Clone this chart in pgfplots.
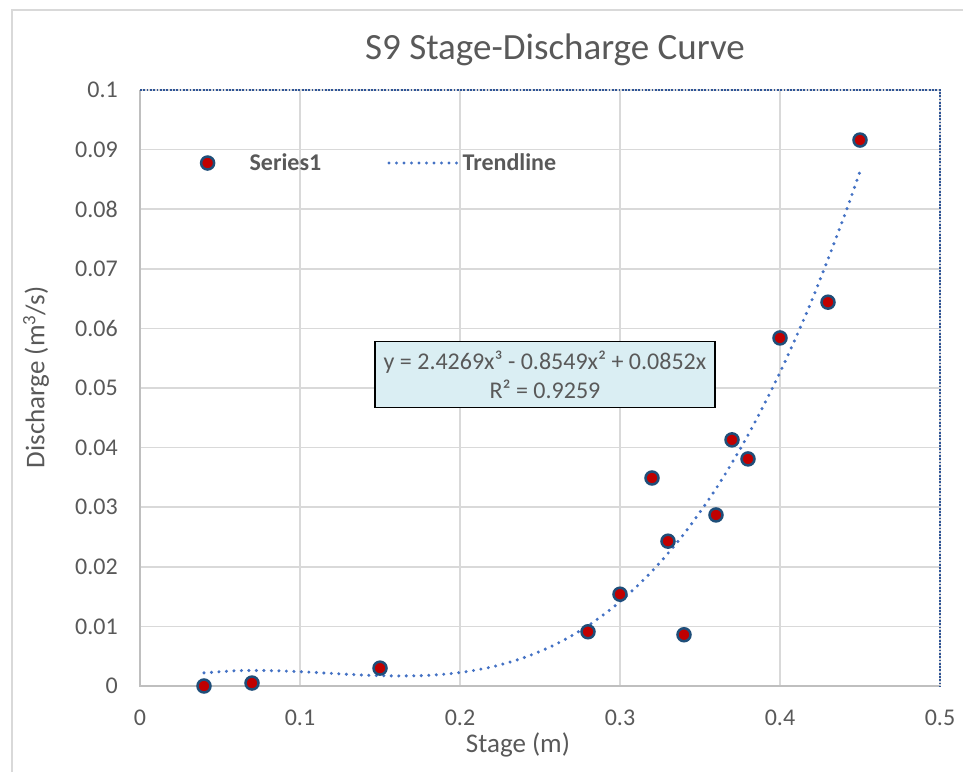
\documentclass[border=0pt]{standalone}
\usepackage{fontspec}
\setmainfont{Carlito}
\usepackage{pgfplots}
\pgfplotsset{compat=1.18}
\definecolor{txt}{HTML}{595959}
\definecolor{grd}{HTML}{D9D9D9}
\definecolor{mkfill}{HTML}{C00000}
\definecolor{mkline}{HTML}{1F4E79}
\definecolor{trend}{HTML}{4472C4}
\definecolor{pab}{HTML}{2F5597}
\definecolor{eqfill}{HTML}{DAEEF3}
\definecolor{outerc}{HTML}{D9D9D9}
\definecolor{axc}{HTML}{BFBFBF}
\pgfplotsset{
  s1legend/.style={legend image code/.code={\draw[mkline, fill=mkfill, line width=2.5pt] (0pt,0pt) circle (6.5pt); \path[draw=none, fill=none] (-8pt,-8pt) rectangle (40pt,8pt);}},
  trlegend/.style={legend image code/.code={\draw[trend, line width=3.4pt, dash pattern=on 0pt off 7.5pt, line cap=round] (0pt,0pt) -- (70pt,0pt);}},
}
\begin{document}
\begin{tikzpicture}
\path[use as bounding box] (0,0) rectangle (963pt,772pt);
\draw[outerc, line width=1.5pt] (12pt,0pt) -- (12pt,762pt) -- (963pt,762pt);
\begin{axis}[
  at={(140pt,86pt)}, anchor=south west,
  scale only axis, width=800pt, height=596pt,
  xmin=0, xmax=0.5, ymin=0, ymax=0.1,
  clip=false,
  xtick={0,0.1,0.2,0.3,0.4,0.5},
  xticklabels={0,0.1,0.2,0.3,0.4,0.5},
  ytick={0,0.01,0.02,0.03,0.04,0.05,0.06,0.07,0.08,0.09,0.1},
  yticklabels={0,0.01,0.02,0.03,0.04,0.05,0.06,0.07,0.08,0.09,0.1},
  /pgf/number format/assume math mode=true,
  major tick length=0pt,
  grid=major, grid style={grd, line width=1.5pt},
  axis line style={draw=none},
  tick label style={font=\fontsize{24}{28}\selectfont, text=txt},
  xticklabel style={anchor=north, inner sep=0pt, yshift=-24pt},
  yticklabel style={anchor=east, inner sep=0pt, xshift=-22pt},
  xlabel={Stage (m)}, ylabel={Discharge (m\textsuperscript{3}/s)},
  label style={font=\fontsize{27}{31}\selectfont, text=txt},
  xlabel style={at={(axis description cs:0.4725,-0.099)}, anchor=center},
  ylabel style={at={(axis description cs:-0.13,0.518)}, anchor=center},
  legend style={at={(axis description cs:0.0705,0.8775)}, anchor=west, draw=none, fill=none,
    font=\fontsize{24}{28}\selectfont\bfseries, text=txt,
    /tikz/every even column/.append style={column sep=64pt}},
  legend columns=2,
]
\addplot[only marks, mark=*, mark size=6.5pt, mark options={fill=mkfill, draw=mkline, line width=2.5pt}, s1legend]
coordinates {(0.04,0.0000) (0.07,0.0005) (0.15,0.0030) (0.28,0.0091) (0.30,0.0154) (0.32,0.0349) (0.33,0.0243) (0.34,0.0086) (0.36,0.0287) (0.37,0.0413) (0.38,0.0381) (0.40,0.0584) (0.43,0.0644) (0.45,0.0916)};
\addlegendentry{Series1}
\addplot[trend, line width=3.4pt, dash pattern=on 0pt off 7.5pt, line cap=round, smooth, no marks, trlegend]
coordinates {(0.04,0.00220)(0.06,0.00256)(0.08,0.00259)(0.10,0.00240)(0.12,0.00211)(0.14,0.00183)(0.16,0.00169)(0.18,0.00179)(0.20,0.00226)(0.22,0.00321)(0.24,0.00476)(0.26,0.00702)(0.28,0.01011)(0.30,0.01415)(0.32,0.01925)(0.34,0.02553)(0.36,0.03311)(0.38,0.04210)(0.40,0.05262)(0.42,0.06478)(0.44,0.07871)(0.45,0.08637)};
\addlegendentry{Trendline}
\draw[axc, line width=1.5pt] (rel axis cs:0,1) -- (rel axis cs:0,0) -- (rel axis cs:1,0);
\draw[pab, line width=2pt, dash pattern=on 1.8pt off 1.5pt] (rel axis cs:0,1) -- (rel axis cs:1,1) -- (rel axis cs:1,0);
\node[draw=black, line width=1.2pt, fill=eqfill, minimum width=340pt, minimum height=66pt, align=center,
  font=\fontsize{24}{28.5}\selectfont, text=txt, inner sep=0pt] at (axis cs:0.2531,0.0522)
  {y = 2.4269x³ - 0.8549x² + 0.0852x\\R² = 0.9259};
\end{axis}
\node[font=\fontsize{37}{44}\selectfont, text=txt] at (555pt,722pt) {S9 Stage-Discharge Curve};
\end{tikzpicture}
\end{document}
